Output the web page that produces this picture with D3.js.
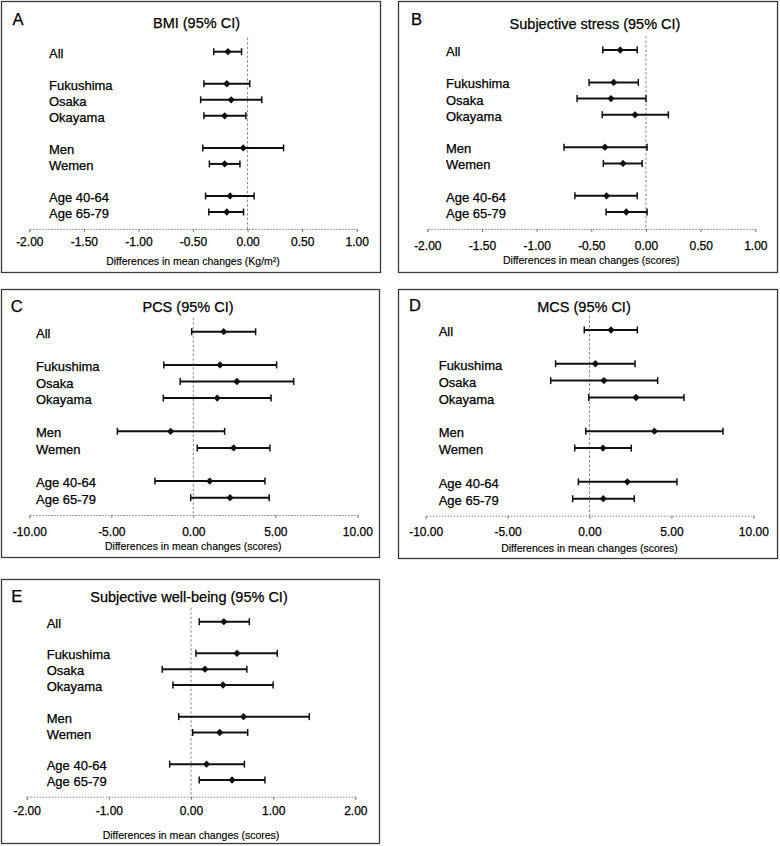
<!DOCTYPE html>
<html><head><meta charset="utf-8">
<script src="https://cdn.jsdelivr.net/npm/d3@7"></script>
<style>
body{margin:0;background:#fff;}
svg{display:block;font-family:Arial,"Liberation Sans",Helvetica,sans-serif;}
svg text{stroke:#000;stroke-width:0.25px;fill:#000;}
</style></head>
<body>
<script>
// ---- data ----
const categories = ["All","Fukushima","Osaka","Okayama","Men","Wemen","Age 40-64","Age 65-79"];
const rowSlots = [0,2,3,4,6,7,9,10];

const bmiEst = [-0.18,-0.19,-0.15,-0.21,-0.04,-0.21,-0.16,-0.19];
const bmiLo  = [-0.31,-0.40,-0.43,-0.40,-0.41,-0.35,-0.385,-0.355];
const bmiHi  = [-0.055,0.02,0.13,-0.015,0.33,-0.07,0.06,-0.037];

const stressEst = [-0.235,-0.295,-0.32,-0.10,-0.375,-0.21,-0.36,-0.18];
const stressLo  = [-0.395,-0.52,-0.63,-0.40,-0.75,-0.39,-0.65,-0.365];
const stressHi  = [-0.08,-0.07,0.0,0.205,0.01,-0.035,-0.08,0.01];

const pcsEst = [1.85,1.63,2.66,1.46,-1.38,2.46,1.0,2.24];
const pcsLo  = [-0.1,-1.8,-0.8,-1.83,-4.63,0.24,-2.34,-0.16];
const pcsHi  = [3.8,5.08,6.12,4.74,1.91,4.67,4.37,4.63];

const mcsEst = [1.31,0.36,0.88,2.84,3.96,0.82,2.31,0.84];
const mcsLo  = [-0.32,-2.07,-2.37,-0.05,-0.23,-0.9,-0.68,-1.03];
const mcsHi  = [2.92,2.78,4.16,5.77,8.15,2.55,5.34,2.73];

const wbEst = [0.40,0.56,0.17,0.39,0.64,0.35,0.19,0.50];
const wbLo  = [0.10,0.06,-0.35,-0.22,-0.15,0.02,-0.26,0.10];
const wbHi  = [0.71,1.05,0.68,1.00,1.44,0.69,0.65,0.90];

const ticksSmall = [-2,-1.5,-1,-0.5,0,0.5,1];
const ticksLarge = [-10,-5,0,5,10];
const ticksWB = [-2,-1,0,1,2];

// ---- layout ----
const panels = [
 {letter:"A", title:"BMI (95% CI)", xtitle:"Differences in mean changes (Kg/m²)",
  est:bmiEst, lo:bmiLo, hi:bmiHi, domain:[-2,1], ticks:ticksSmall,
  box:[1,1,380,272], L:[18,19], T:[196.5,23], lx:49, ry:[51.7,212], ay:229, xr:[29.3,356.7], tly:242, aty:261.5},
 {letter:"B", title:"Subjective stress (95% CI)", xtitle:"Differences in mean changes (scores)",
  est:stressEst, lo:stressLo, hi:stressHi, domain:[-2,1], ticks:ticksSmall,
  box:[398,1,777,272], L:[416.5,19], T:[595,24], lx:446, ry:[50,212], ay:229, xr:[427.3,755.3], tly:245.5, aty:260.5},
 {letter:"C", title:"PCS (95% CI)", xtitle:"Differences in mean changes (scores)",
  est:pcsEst, lo:pcsLo, hi:pcsHi, domain:[-10,10], ticks:ticksLarge,
  box:[1,289,379,557], L:[16.7,306.5], T:[188,306.5], lx:36, ry:[331.7,497.7], ay:515, xr:[29.3,357.3], tly:532, aty:546.7},
 {letter:"D", title:"MCS (95% CI)", xtitle:"Differences in mean changes (scores)",
  est:mcsEst, lo:mcsLo, hi:mcsHi, domain:[-10,10], ticks:ticksLarge,
  box:[398,289,777,558], L:[415,305], T:[584,306.5], lx:438.7, ry:[330,498.7], ay:515.7, xr:[425.7,753.3], tly:531.7, aty:548.3},
 {letter:"E", title:"Subjective well-being (95% CI)", xtitle:"Differences in mean changes (scores)",
  est:wbEst, lo:wbLo, hi:wbHi, domain:[-2,2], ticks:ticksWB,
  box:[1,579,379,843], L:[16.7,596], T:[189,596.7], lx:46.7, ry:[621.7,780], ay:796.7, xr:[26.7,355.3], tly:810.7, aty:835}
];

const svg = d3.select("body").append("svg").attr("width",780).attr("height",846);

panels.forEach(p => {
  const g = svg.append("g");
  const [x0,y0,x1,y1] = p.box;
  g.append("rect").attr("x",x0+0.5).attr("y",y0+0.5).attr("width",x1-x0).attr("height",y1-y0)
    .attr("fill","none").attr("stroke","#3a3a3a").attr("stroke-width",1.3);
  g.append("text").attr("x",p.L[0]).attr("y",p.L[1]).attr("dy","0.35em").attr("text-anchor","middle")
    .attr("font-size",16.5).text(p.letter);
  g.append("text").attr("x",p.T[0]).attr("y",p.T[1]).attr("dy","0.35em").attr("text-anchor","middle")
    .attr("font-size",14.5).text(p.title);

  const x = d3.scaleLinear().domain(p.domain).range(p.xr);
  const y = d3.scaleLinear().domain([0,10]).range(p.ry);

  // axis
  const ax = g.append("g").attr("transform",`translate(0,${p.ay})`)
    .call(d3.axisBottom(x).tickValues(p.ticks).tickSize(3).tickSizeOuter(3).tickFormat(d=>d.toFixed(2)));
  ax.select(".domain").attr("stroke","#888").attr("stroke-dasharray","1.5,1.5").attr("stroke-width",1);
  ax.selectAll(".tick line").attr("stroke","#777");
  ax.selectAll(".tick text").attr("y",p.tly-p.ay).attr("dy","0.35em")
    .attr("font-size",12).attr("fill","#000").attr("font-family","Arial,'Liberation Sans',sans-serif");
  g.append("text").attr("x",(p.xr[0]+p.xr[1])/2).attr("y",p.aty).attr("dy","0.35em").attr("text-anchor","middle")
    .attr("font-size",10.5).style("stroke-width","0.15px").text(p.xtitle);

  // zero line
  g.append("line").attr("x1",x(0)).attr("x2",x(0)).attr("y1",y(0)-14).attr("y2",p.ay)
    .attr("stroke","#888").attr("stroke-width",1).attr("stroke-dasharray","2.5,2");

  // rows
  categories.forEach((c,i) => {
    const yy = y(rowSlots[i]);
    g.append("text").attr("x",p.lx).attr("y",yy+1.5).attr("dy","0.35em")
      .attr("font-size",13).text(c);
    g.append("line").attr("x1",x(p.lo[i])).attr("x2",x(p.hi[i])).attr("y1",yy).attr("y2",yy)
      .attr("stroke","#111").attr("stroke-width",2);
    [p.lo[i],p.hi[i]].forEach(v => {
      g.append("line").attr("x1",x(v)).attr("x2",x(v)).attr("y1",yy-3.5).attr("y2",yy+3.5)
        .attr("stroke","#111").attr("stroke-width",1.5);
    });
    g.append("path").attr("transform",`translate(${x(p.est[i])},${yy})`)
      .attr("d",d3.symbol().type(d3.symbolDiamond2).size(34)()).attr("fill","#111");
  });
});
</script>
</body></html>
